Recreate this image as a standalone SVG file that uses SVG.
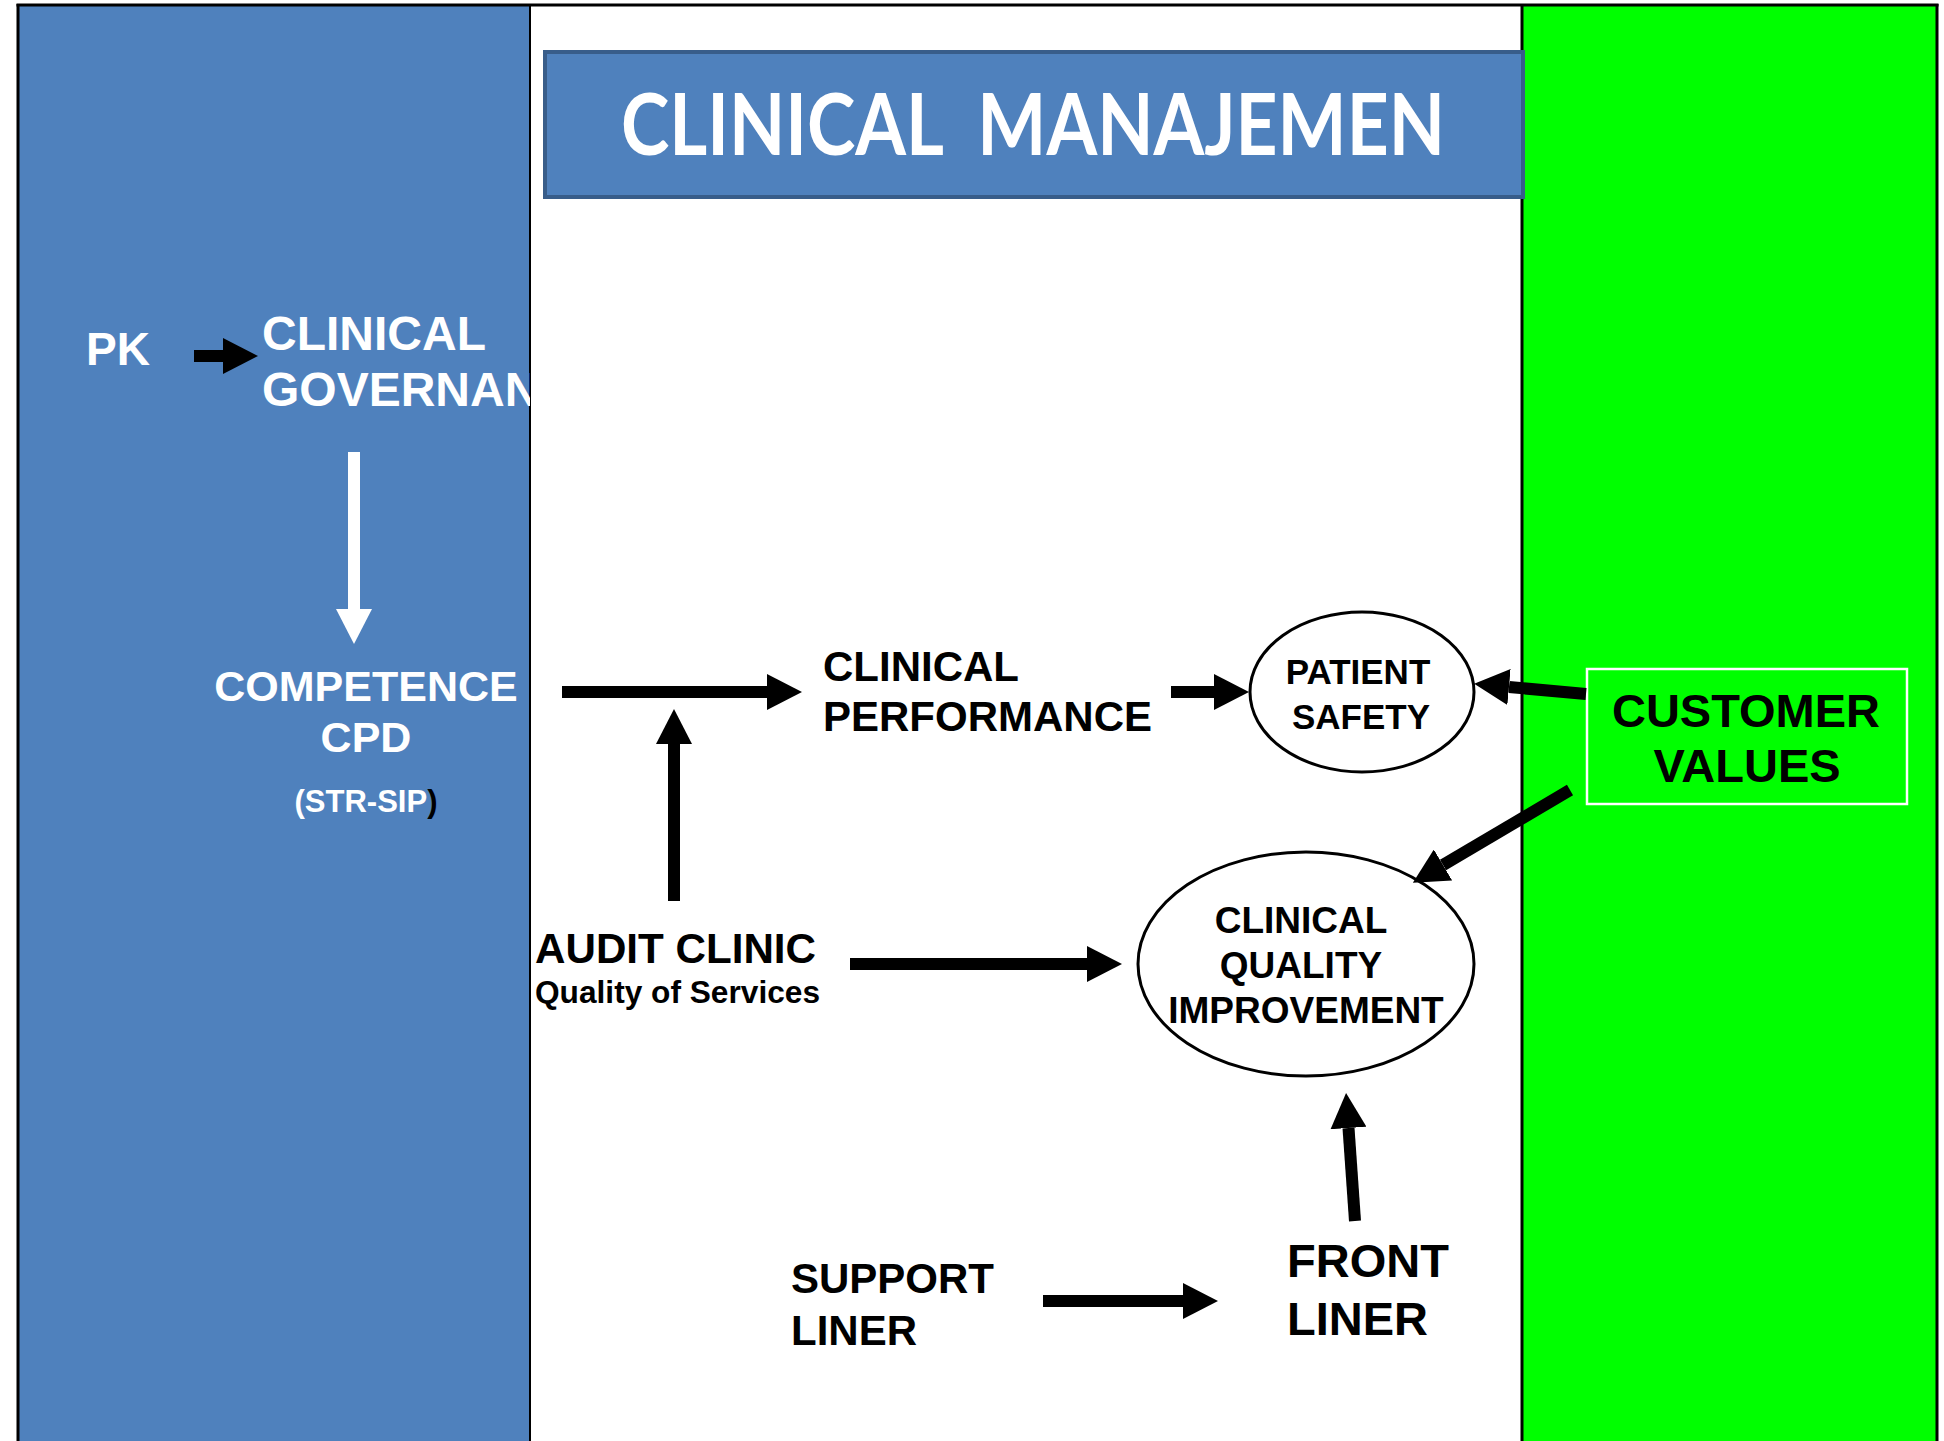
<svg xmlns="http://www.w3.org/2000/svg" width="1944" height="1441" viewBox="0 0 1944 1441">
  <style>
    .t { font-family: "Liberation Sans", Arial, sans-serif; font-weight: bold; }
    .w { fill: #FFFFFF; }
    .k { fill: #000000; }
    .c { text-anchor: middle; }
    .shaft { stroke: #000000; stroke-width: 12; fill: none; marker-end: url(#head); }
    .shaftw { stroke: #FFFFFF; stroke-width: 12; fill: none; marker-end: url(#headw); }
    .frame { stroke: #000000; fill: none; }
  </style>
  <defs>
    <marker id="head" markerUnits="userSpaceOnUse" markerWidth="36" markerHeight="36" refX="0" refY="18" orient="auto" viewBox="0 0 36 36">
      <path d="M0,0 L35,18 L0,36 Z" fill="#000000"/>
    </marker>
    <marker id="headw" markerUnits="userSpaceOnUse" markerWidth="36" markerHeight="36" refX="0" refY="18" orient="auto" viewBox="0 0 36 36">
      <path d="M0,0 L35,18 L0,36 Z" fill="#FFFFFF"/>
    </marker>
    <clipPath id="leftclip">
      <rect x="18" y="5" width="512" height="1436"/>
    </clipPath>
  </defs>

  <rect x="0" y="0" width="1944" height="1441" fill="#FFFFFF"/>

  <g id="panels">
    <rect id="left-panel" x="18" y="5" width="512" height="1440" fill="#4F81BD"/>
    <rect id="middle-panel" x="530" y="5" width="992" height="1440" fill="#FFFFFF"/>
    <rect id="right-panel" x="1522" y="5" width="415" height="1440" fill="#00FF00"/>
  </g>

  <g id="frame">
    <line class="frame" x1="16.5" y1="5" x2="1938.5" y2="5" stroke-width="3"/>
    <line class="frame" x1="18" y1="4" x2="18" y2="1441" stroke-width="3"/>
    <line class="frame" x1="530" y1="4" x2="530" y2="1441" stroke-width="2"/>
    <line class="frame" x1="1522" y1="4" x2="1522" y2="1441" stroke-width="3"/>
    <line class="frame" x1="1937" y1="4" x2="1937" y2="1441" stroke-width="3"/>
  </g>

  <g id="title">
    <rect x="545" y="52" width="978" height="145" fill="#4F81BD" stroke="#385D8A" stroke-width="4"/>
    <text class="w" x="621" y="155" font-family="Lato, 'Open Sans', sans-serif" font-weight="bold" font-size="86" textLength="824" lengthAdjust="spacingAndGlyphs" xml:space="preserve">CLINICAL  MANAJEMEN</text>
  </g>

  <g id="pk">
    <text class="t w" x="86" y="365" font-size="46" textLength="64" lengthAdjust="spacingAndGlyphs">PK</text>
  </g>

  <g id="clinical-governance" clip-path="url(#leftclip)">
    <text class="t w" x="262" y="350" font-size="48">CLINICAL</text>
    <text class="t w" x="262" y="406" font-size="48">GOVERNAN</text>
  </g>

  <g id="competence">
    <text class="t w c" x="366" y="701" font-size="43">COMPETENCE</text>
    <text class="t w c" x="366" y="752" font-size="43">CPD</text>
    <text class="t w c" x="366" y="812" font-size="31">(STR-SIP<tspan class="k">)</tspan></text>
  </g>

  <g id="clinical-performance">
    <text class="t k" x="823" y="681" font-size="42">CLINICAL</text>
    <text class="t k" x="823" y="731" font-size="42">PERFORMANCE</text>
  </g>

  <g id="patient-safety">
    <ellipse cx="1362" cy="692" rx="112" ry="80" fill="#FFFFFF" stroke="#000000" stroke-width="3"/>
    <text class="t k c" x="1358" y="684" font-size="35">PATIENT</text>
    <text class="t k c" x="1361" y="729" font-size="35">SAFETY</text>
  </g>

  <g id="customer-values">
    <rect x="1587" y="669" width="320" height="135" fill="#00FF00" stroke="#FFFFFF" stroke-width="2.5"/>
    <text class="t k c" x="1746" y="727" font-size="47">CUSTOMER</text>
    <text class="t k c" x="1747" y="782" font-size="47">VALUES</text>
  </g>

  <g id="clinical-quality-improvement">
    <ellipse cx="1306" cy="964" rx="168" ry="112" fill="#FFFFFF" stroke="#000000" stroke-width="3"/>
    <text class="t k c" x="1301" y="933" font-size="37">CLINICAL</text>
    <text class="t k c" x="1301" y="978" font-size="37">QUALITY</text>
    <text class="t k c" x="1306" y="1023" font-size="37">IMPROVEMENT</text>
  </g>

  <g id="audit-clinic">
    <text class="t k" x="535" y="963" font-size="42" textLength="281" lengthAdjust="spacingAndGlyphs">AUDIT CLINIC</text>
    <text class="t k" x="535" y="1003" font-size="32" textLength="285" lengthAdjust="spacingAndGlyphs">Quality of Services</text>
  </g>

  <g id="support-liner">
    <text class="t k" x="791" y="1293" font-size="42">SUPPORT</text>
    <text class="t k" x="791" y="1345" font-size="42">LINER</text>
  </g>

  <g id="front-liner">
    <text class="t k" x="1287" y="1277" font-size="47">FRONT</text>
    <text class="t k" x="1287" y="1335" font-size="47">LINER</text>
  </g>

  <g id="connectors">
    <line class="shaft" x1="194" y1="356" x2="223" y2="356"/>
    <line class="shaftw" x1="354" y1="452" x2="354" y2="609"/>
    <line class="shaft" x1="562" y1="692" x2="767" y2="692"/>
    <line class="shaft" x1="674" y1="901" x2="674" y2="744"/>
    <line class="shaft" x1="1171" y1="692" x2="1214" y2="692"/>
    <line class="shaft" x1="1586" y1="694" x2="1509" y2="687"/>
    <line class="shaft" x1="1570" y1="790" x2="1443" y2="865"/>
    <line class="shaft" x1="850" y1="964" x2="1087" y2="964"/>
    <line class="shaft" x1="1043" y1="1301" x2="1183" y2="1301"/>
    <line class="shaft" x1="1355" y1="1221" x2="1348.5" y2="1128"/>
  </g>
</svg>
